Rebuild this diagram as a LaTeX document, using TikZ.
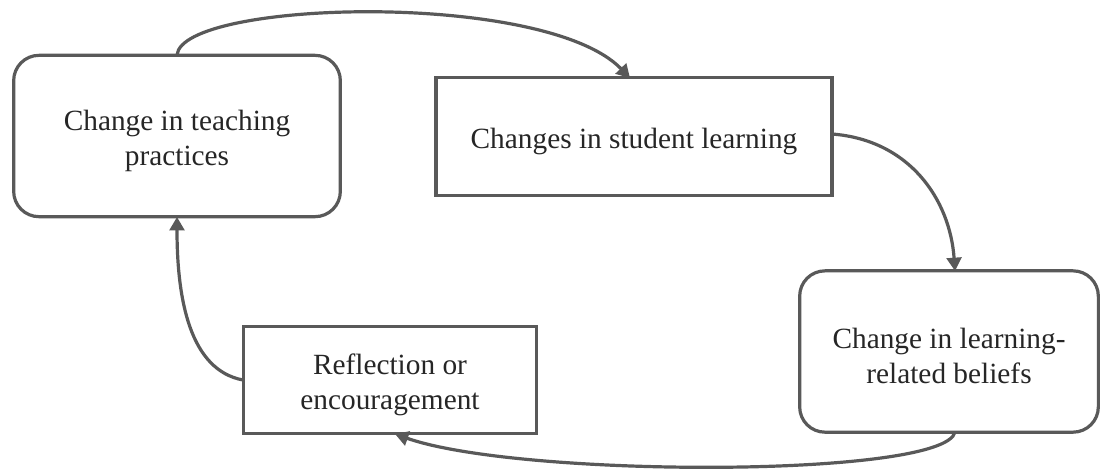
\documentclass[tikz,border=0pt]{standalone}
\usepackage{fontspec}
\setmainfont{Liberation Serif}
\usetikzlibrary{arrows.meta}
\definecolor{lc}{HTML}{595959}
\definecolor{tc}{HTML}{262626}
\begin{document}
\begin{tikzpicture}[x=0.75pt,y=-0.75pt,
  box/.style={draw=lc, line width=2.4pt, fill=white, inner sep=0pt},
  rbox/.style={box, rounded corners=19pt},
  txt/.style={align=center, text=tc, font=\fontsize{22}{26.5}\selectfont, inner sep=0pt, yshift=-3.5pt},
  conn/.style={draw=lc, line width=2.4pt, -{Triangle[length=10pt,width=11pt]}}]
\useasboundingbox (0,0) rectangle (1102,472);
\node[rbox, minimum width=245pt, minimum height=121pt,
  label={[txt]center:Change in teaching\\practices}] (A) at (177,136) {};
\node[box, minimum width=297pt, minimum height=88pt,
  label={[txt]center:Changes in student learning}] (B) at (634,136.5) {};
\node[rbox, minimum width=224pt, minimum height=121pt,
  label={[txt]center:Change in learning-\\related beliefs}] (C) at (949,351.5) {};
\node[box, minimum width=220pt, minimum height=80pt,
  label={[txt]center:Reflection or\\encouragement}] (D) at (390,380) {};
\coordinate (a1) at (177,55);
\coordinate (b1) at (630,78);
\coordinate (b2) at (832,134);
\coordinate (c1) at (955,271);
\coordinate (c2) at (955,432);
\coordinate (d1) at (395,434);
\coordinate (d2) at (243,380);
\coordinate (a2) at (177,217);
\draw[conn] (a1) .. controls (182,0) and (545,-10) .. (b1);
\draw[conn] (b2) .. controls (910,140) and (950,200) .. (c1);
\draw[conn] (c2) .. controls (945,478) and (520,478) .. (d1);
\draw[conn] (d2) .. controls (190,370) and (177,300) .. (a2);
\end{tikzpicture}
\end{document}
